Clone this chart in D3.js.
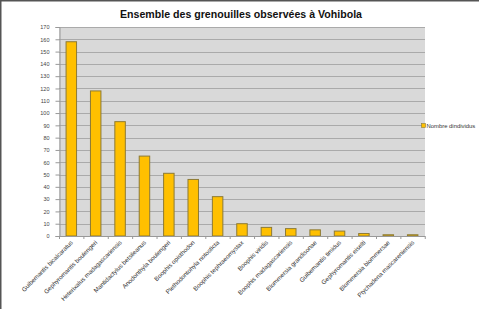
<!DOCTYPE html>
<html>
<head>
<meta charset="utf-8">
<script src="https://cdn.jsdelivr.net/npm/d3@7"></script>
<style>
  body { margin: 0; background: #fff; }
  svg { display: block; }
</style>
</head>
<body>
<svg id="chart" width="481" height="309"></svg>
<script>
// Frog species counts
const species = [
  "Guibemantis bicalcaratus", "Gephyromantis boulengeri", "Heterixalus madagascariensis",
  "Mantidactylus betsileanus", "Anodonthyla boulengeri", "Boophis opisthodon",
  "Plethodontohyla notosticta", "Boophis tephraeomystax", "Boophis viridis",
  "Boophis madagascariensis", "Blommersia grandisonae", "Guibemantis timidus",
  "Gephyromantis eiselti", "Blommersia blommersae", "Ptychadena mascareniensis"
];
const counts = [158, 118, 93, 65, 51, 46, 32, 10, 7, 6, 5, 4, 2, 1, 1];
const yTicks = d3.range(0, 171, 10);
const title = "Ensemble des grenouilles observées à Vohibola";
const seriesName = "Nombre dindividus";

const svg = d3.select("#chart");
const margin = { left: 59, right: 425, top: 27, bottom: 236 };

// frame lines at top/left
svg.append("line").attr("x1", 0).attr("y1", 0.5).attr("x2", 479).attr("y2", 0.5)
  .attr("stroke", "#555").attr("stroke-width", 2);
svg.append("line").attr("x1", 0.5).attr("y1", 0).attr("x2", 0.5).attr("y2", 309)
  .attr("stroke", "#555").attr("stroke-width", 2);

const x = d3.scaleBand().domain(species).range([margin.left, margin.right]).paddingInner(0.57).paddingOuter(0.29);
const y = d3.scaleLinear().domain([0, 170]).range([margin.bottom, margin.top]);

svg.append("rect")
  .attr("x", margin.left).attr("y", margin.top)
  .attr("width", margin.right - margin.left).attr("height", margin.bottom - margin.top)
  .attr("fill", "#d9d9d9");

// gridlines
svg.append("g").selectAll("line")
  .data(yTicks.filter(d => d > 0))
  .enter().append("line")
  .attr("x1", margin.left).attr("x2", margin.right)
  .attr("y1", d => Math.round(y(d)) + 0.5).attr("y2", d => Math.round(y(d)) + 0.5)
  .attr("stroke", "#aaaaaa");

// bars
svg.append("g").selectAll("rect")
  .data(counts)
  .enter().append("rect")
  .attr("x", (d, i) => x(species[i]))
  .attr("y", d => y(d))
  .attr("width", x.bandwidth())
  .attr("height", d => y(0) - y(d))
  .attr("fill", "#ffc000")
  .attr("stroke", "#8c7a35")
  .attr("stroke-width", 1);

// y axis
const yAxis = d3.axisLeft(y).tickValues(yTicks).tickSize(4).tickPadding(6);
const gy = svg.append("g").attr("transform", `translate(${margin.left + 0.5},0)`).call(yAxis);
gy.select(".domain").attr("stroke", "#999");
gy.selectAll(".tick line").attr("stroke", "#999");
gy.selectAll("text").attr("fill", "#444").style("font", "5.5px 'Liberation Sans', Arial, sans-serif");

// x axis line + ticks at band boundaries
svg.append("line").attr("x1", margin.left).attr("x2", margin.right)
  .attr("y1", margin.bottom + 0.5).attr("y2", margin.bottom + 0.5).attr("stroke", "#999");
svg.append("g").selectAll("line")
  .data(d3.range(species.length + 1))
  .enter().append("line")
  .attr("x1", i => margin.left + i * x.step() + 0.5)
  .attr("x2", i => margin.left + i * x.step() + 0.5)
  .attr("y1", margin.bottom).attr("y2", margin.bottom + 3)
  .attr("stroke", "#999");

svg.append("g").selectAll("text")
  .data(species)
  .enter().append("text")
  .attr("transform", d => `translate(${x(d) + x.bandwidth() / 2 + 2},${margin.bottom + 7}) rotate(-45)`)
  .attr("text-anchor", "end")
  .attr("fill", "#333")
  .style("font", "6.2px 'Liberation Sans', Arial, sans-serif")
  .text(d => d);

// title
svg.append("text")
  .attr("x", 241).attr("y", 18)
  .attr("text-anchor", "middle")
  .attr("textLength", 242).attr("lengthAdjust", "spacingAndGlyphs")
  .style("font", "bold 11px 'Liberation Sans', Arial, sans-serif")
  .attr("fill", "#111")
  .text(title);

// legend
svg.append("rect").attr("x", 421.5).attr("y", 123.5).attr("width", 4).attr("height", 4)
  .attr("fill", "#ffc000").attr("stroke", "#8c7a35").attr("stroke-width", 0.6);
svg.append("text").attr("x", 426.5).attr("y", 127.8)
  .style("font", "5.9px 'Liberation Sans', Arial, sans-serif")
  .attr("fill", "#333")
  .text(seriesName);
</script>
</body>
</html>
